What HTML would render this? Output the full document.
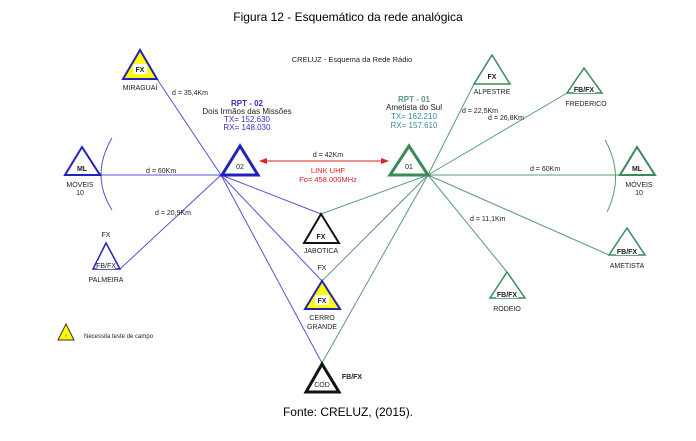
<!DOCTYPE html>
<html><head><meta charset="utf-8"><style>
html,body{margin:0;padding:0;background:#fff;width:696px;height:441px;overflow:hidden}
svg{display:block}
text{font-family:"Liberation Sans",Arial,sans-serif}
</style></head><body>
<svg width="696" height="441" viewBox="0 0 696 441" xmlns="http://www.w3.org/2000/svg">
<defs>
<marker id="ar" markerWidth="8" markerHeight="8" refX="7" refY="4" orient="auto"><path d="M0,1 L8,4 L0,7z" fill="#d22"/></marker>
<marker id="al" markerWidth="8" markerHeight="8" refX="1" refY="4" orient="auto"><path d="M8,1 L0,4 L8,7z" fill="#d22"/></marker>
</defs>
<text x="348" y="21" font-size="12" text-anchor="middle" fill="#000">Figura 12 - Esquemático da rede analógica</text>
<text x="348" y="416" font-size="12" text-anchor="middle" fill="#000">Fonte: CRELUZ, (2015).</text>
<text x="352" y="62" font-size="7.5" text-anchor="middle" fill="#222">CRELUZ - Esquema da Rede Rádio</text>

<!-- blue lines -->
<g stroke="#5555cc" stroke-width="1" fill="none">
<line x1="157" y1="79" x2="221" y2="175"/>
<line x1="100" y1="175" x2="221" y2="175"/>
<line x1="120" y1="269" x2="221" y2="175"/>
<line x1="221" y1="175" x2="321" y2="214"/>
<line x1="221" y1="175" x2="322" y2="281"/>
<line x1="221" y1="175" x2="322" y2="363"/>
<path d="M112,138 Q90,175 112,210"/>
</g>
<!-- green lines -->
<g stroke="#5a9a7a" stroke-width="1" fill="none">
<line x1="428" y1="175" x2="474" y2="84"/>
<line x1="428" y1="175" x2="567" y2="93"/>
<line x1="428" y1="175" x2="620" y2="175"/>
<line x1="428" y1="175" x2="609" y2="255"/>
<line x1="428" y1="175" x2="507" y2="272"/>
<line x1="428" y1="175" x2="321" y2="214"/>
<line x1="428" y1="175" x2="322" y2="281"/>
<line x1="428" y1="175" x2="322" y2="363"/>
<path d="M605,140 Q625,175 607,212"/>
</g>
<!-- red link -->
<line x1="260" y1="161" x2="388" y2="161" stroke="#d22" stroke-width="1" marker-end="url(#ar)" marker-start="url(#al)"/>
<text x="328" y="157" font-size="7" text-anchor="middle" fill="#222">d = 42Km</text>
<text x="328" y="173" font-size="7.5" text-anchor="middle" fill="#d22">LINK UHF</text>
<text x="328" y="182" font-size="7.5" text-anchor="middle" fill="#d22">Fo= 458.000MHz</text>

<!-- distance labels -->
<g font-size="7" fill="#222">
<text x="172" y="95">d = 35,4Km</text>
<text x="146" y="173">d = 60Km</text>
<text x="155" y="215">d = 20,9Km</text>
<text x="462" y="113">d = 22,5Km</text>
<text x="488" y="120">d = 26,8Km</text>
<text x="530" y="171">d = 60Km</text>
<text x="470" y="221">d = 11,1Km</text>
</g>

<!-- RPT texts -->
<g font-size="8" text-anchor="middle">
<text x="247" y="106" fill="#3333bb" font-weight="bold">RPT - 02</text>
<text x="247" y="114" fill="#222">Dois Irmãos das Missões</text>
<text x="247" y="122" fill="#3333bb">TX= 152.630</text>
<text x="247" y="130" fill="#3333bb">RX= 148.030</text>
<text x="414" y="102" fill="#5a9a7a" font-weight="bold">RPT - 01</text>
<text x="414" y="110" fill="#222">Ametista do Sul</text>
<text x="414" y="119" fill="#3a8a9a">TX= 162.210</text>
<text x="414" y="128" fill="#3a8a9a">RX= 157.610</text>
</g>

<!-- nodes -->
<g font-size="7" text-anchor="middle" fill="#222" font-weight="bold">
<!-- 02 -->
<polygon points="240,146 222,175 258,175" fill="#fff" stroke="#2222bb" stroke-width="3"/>
<text x="240" y="169" font-weight="normal">02</text>
<!-- 01 -->
<polygon points="409,146 390,175 428,175" fill="#fff" stroke="#3a8a5a" stroke-width="3"/>
<text x="409" y="169" font-weight="normal">01</text>
<!-- Miraguai -->
<polygon points="140,50 123,79 157,79" fill="#ffff00" stroke="#2222bb" stroke-width="2"/>
<rect x="133" y="64" width="14" height="10" fill="#fff"/>
<text x="140" y="72">FX</text>
<text x="140" y="90" font-weight="normal">MIRAGUAÍ</text>
<!-- Moveis L -->
<polygon points="82,147 65,175 100,175" fill="#fff" stroke="#2222bb" stroke-width="2"/>
<text x="82" y="171">ML</text>
<text x="80" y="187" font-weight="normal">MÓVEIS</text>
<text x="80" y="195" font-weight="normal">10</text>
<!-- Palmeira -->
<polygon points="106,243 93,269 120,269" fill="#fff" stroke="#2222bb" stroke-width="1.5"/>
<rect x="97" y="261" width="18" height="8" fill="#fff"/>
<text x="106" y="268" font-weight="normal">FB/FX</text>
<text x="106" y="237" font-weight="normal">FX</text>
<text x="106" y="282" font-weight="normal">PALMEIRA</text>
<!-- Jabotica -->
<polygon points="321,214 304,243 339,243" fill="#fff" stroke="#111" stroke-width="2"/>
<text x="321" y="239">FX</text>
<text x="321" y="253" font-weight="normal">JABOTICA</text>
<text x="322" y="270" font-weight="normal">FX</text>
<!-- Cerro -->
<polygon points="322,281 305,309 340,309" fill="#ffff00" stroke="#2222bb" stroke-width="2"/>
<rect x="315" y="295" width="14" height="10" fill="#fff"/>
<text x="322" y="303">FX</text>
<text x="322" y="320" font-weight="normal">CERRO</text>
<text x="322" y="329" font-weight="normal">GRANDE</text>
<!-- COD -->
<polygon points="322,364 306,392 339,392" fill="#fff" stroke="#111" stroke-width="3"/>
<text x="322" y="387" font-weight="normal">COD</text>
<text x="352" y="379">FB/FX</text>
<!-- Alpestre -->
<polygon points="492,55 474,84 510,84" fill="#fff" stroke="#3a8a5a" stroke-width="1.5"/>
<text x="492" y="79">FX</text>
<text x="492" y="94" font-weight="normal">ALPESTRE</text>
<!-- Frederico -->
<polygon points="584,68 567,93 602,93" fill="#fff" stroke="#3a8a5a" stroke-width="1.5"/>
<rect x="574" y="85" width="21" height="8" fill="#fff"/>
<text x="584" y="92">FB/FX</text>
<text x="586" y="106" font-weight="normal">FREDERICO</text>
<!-- Moveis R -->
<polygon points="637,147 620,175 655,175" fill="#fff" stroke="#3a8a5a" stroke-width="2"/>
<text x="637" y="171">ML</text>
<text x="639" y="187" font-weight="normal">MÓVEIS</text>
<text x="639" y="195" font-weight="normal">10</text>
<!-- Ametista -->
<polygon points="627,228 609,255 645,255" fill="#fff" stroke="#3a8a5a" stroke-width="1.5"/>
<rect x="616" y="247" width="22" height="8" fill="#fff"/>
<text x="627" y="254">FB/FX</text>
<text x="627" y="268" font-weight="normal">AMETISTA</text>
<!-- Rodeio -->
<polygon points="507,272 490,298 525,298" fill="#fff" stroke="#3a8a5a" stroke-width="1.5"/>
<rect x="496" y="290" width="22" height="8" fill="#fff"/>
<text x="507" y="297">FB/FX</text>
<text x="507" y="311" font-weight="normal">RODEIO</text>
</g>

<!-- legend -->
<polygon points="66,324 58,340 74,340" fill="#ffff00" stroke="#333" stroke-width="1"/>
<text x="66" y="338" font-size="5" text-anchor="middle">!</text>
<text x="84" y="338" font-size="6" fill="#222">Necessita teste de campo</text>
</svg>
</body></html>
